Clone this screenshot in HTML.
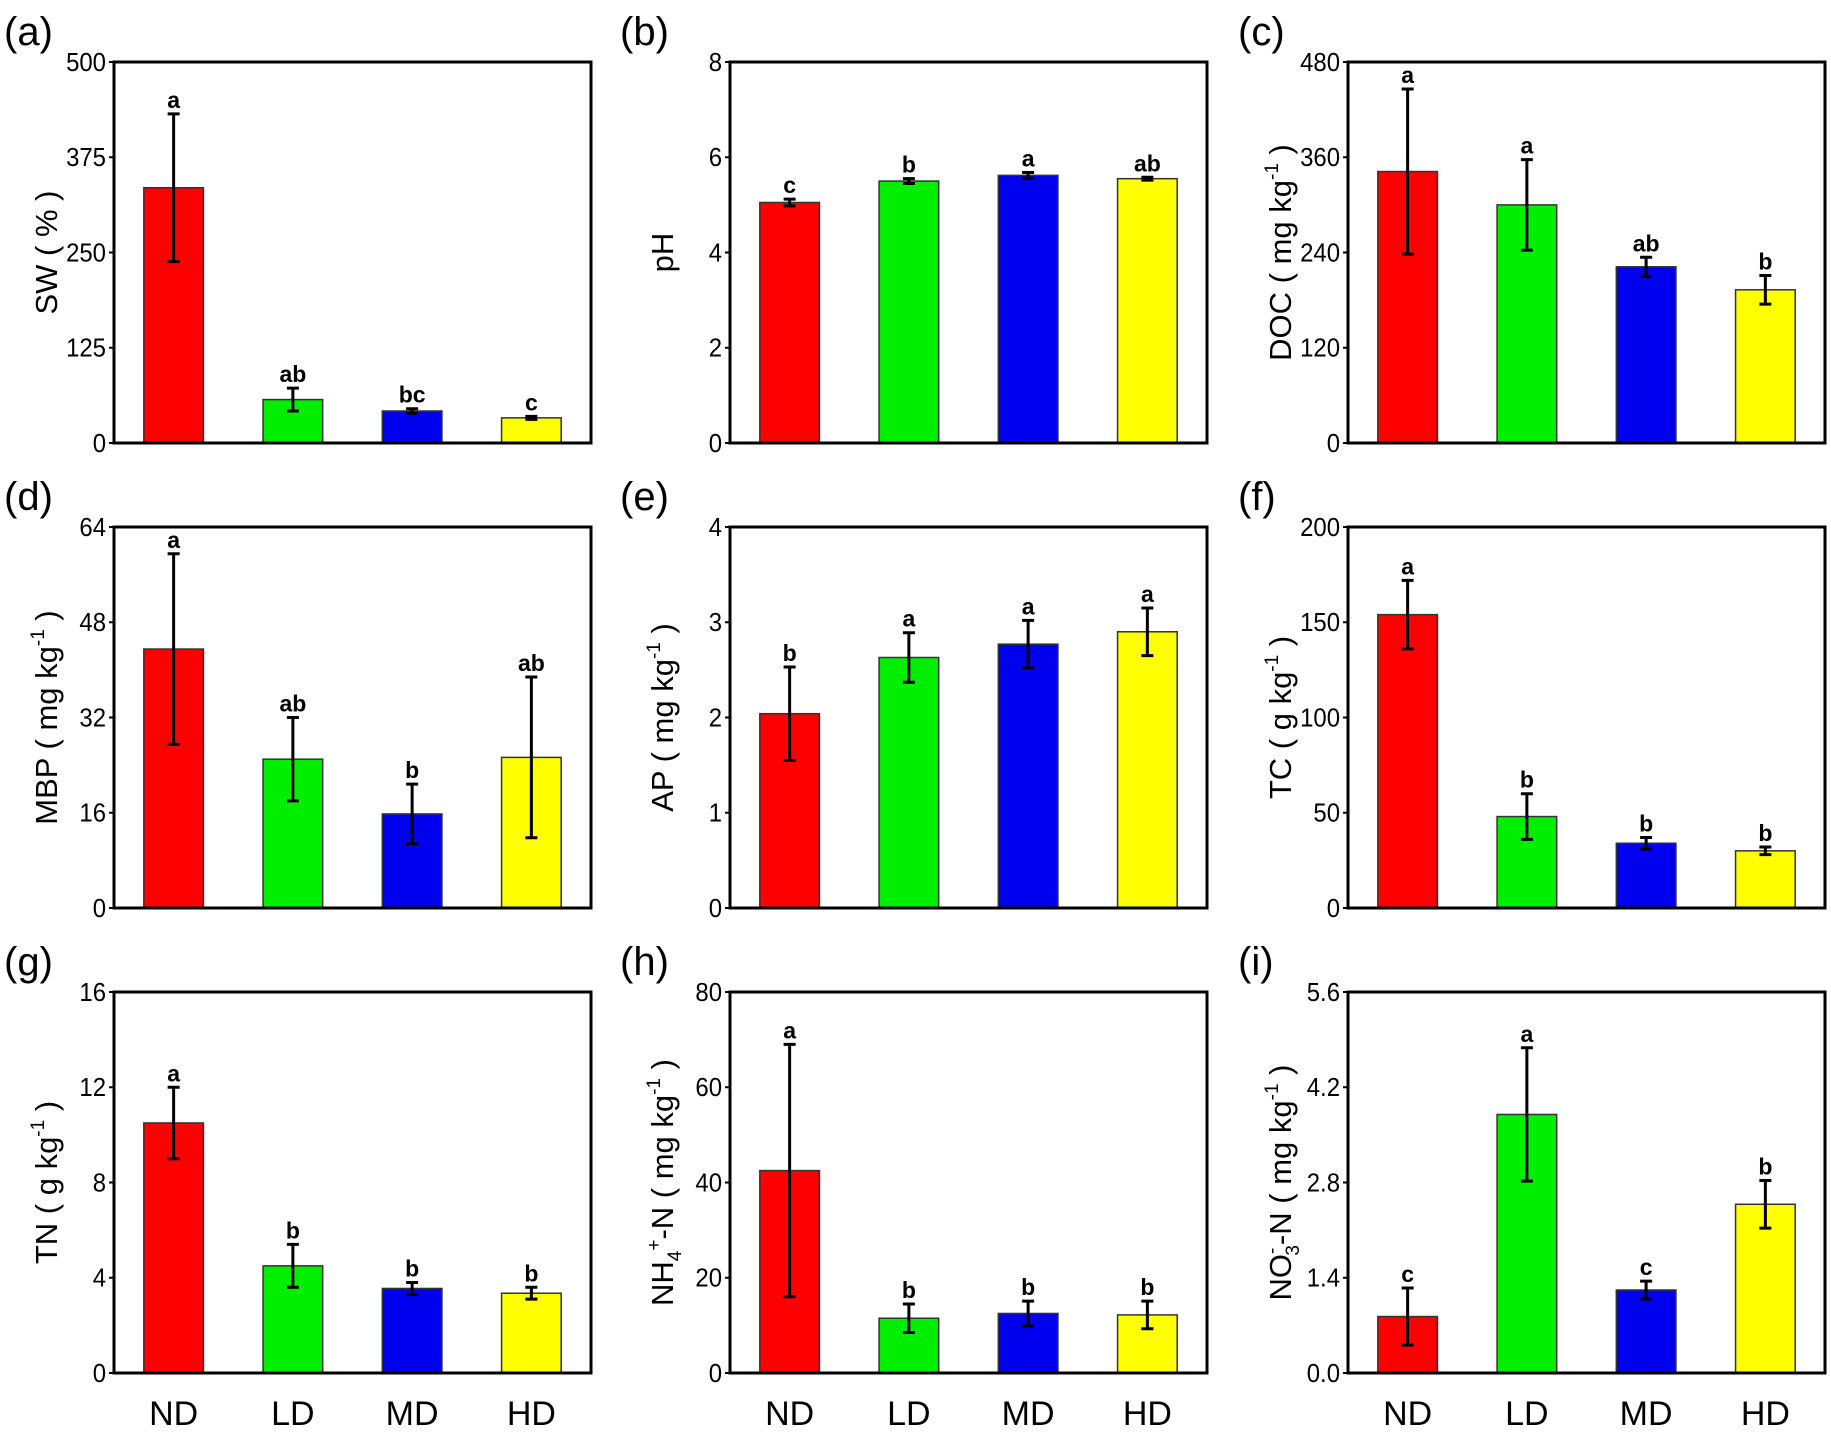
<!DOCTYPE html>
<html><head><meta charset="utf-8"><style>
body{margin:0;background:#fff}
svg{display:block;font-family:"Liberation Sans","DejaVu Sans",sans-serif}
</style></head><body>
<svg id="chart" width="1831" height="1436" viewBox="0 0 1831 1436" xmlns="http://www.w3.org/2000/svg"></svg>
<script>
const categories=["ND","LD","MD","HD"];
const colors=["#ff0000","#00ee00","#0000ee","#ffff00"];
const swValues=[335,57,42,33], swErr=[97,15,3,2], swLetters=["a","ab","bc","c"], swTicks=[0,125,250,375,500];
const phValues=[5.05,5.5,5.62,5.55], phErr=[0.07,0.05,0.06,0.03], phLetters=["c","b","a","ab"], phTicks=[0,2,4,6,8];
const docValues=[342,300,222,193], docErr=[104,57,12,18], docLetters=["a","a","ab","b"], docTicks=[0,120,240,360,480];
const mbpValues=[43.5,25,15.8,25.3], mbpErr=[16,7,5,13.5], mbpLetters=["a","ab","b","ab"], mbpTicks=[0,16,32,48,64];
const apValues=[2.04,2.63,2.77,2.9], apErr=[0.49,0.26,0.25,0.25], apLetters=["b","a","a","a"], apTicks=[0,1,2,3,4];
const tcValues=[154,48,34,30], tcErr=[18,12,3,2], tcLetters=["a","b","b","b"], tcTicks=[0,50,100,150,200];
const tnValues=[10.5,4.5,3.55,3.35], tnErr=[1.5,0.9,0.25,0.25], tnLetters=["a","b","b","b"], tnTicks=[0,4,8,12,16];
const nh4Values=[42.5,11.5,12.5,12.2], nh4Err=[26.5,3,2.6,2.9], nh4Letters=["a","b","b","b"], nh4Ticks=[0,20,40,60,80];
const no3Values=[0.83,3.8,1.22,2.48], no3Err=[0.42,0.98,0.13,0.35], no3Letters=["c","a","c","b"], no3Ticks=["0.0","1.4","2.8","4.2","5.6"];

const NS="http://www.w3.org/2000/svg";
const svg=document.getElementById('chart');
function mk(tag,attrs,parent){const e=document.createElementNS(NS,tag);for(const k in attrs)e.setAttribute(k,attrs[k]);(parent||svg).appendChild(e);return e;}

const colLeft=[114,730,1348], rowTop=[62,527,992], W=477, H=381;
const panels=[
 {id:"a",v:swValues,e:swErr,l:swLetters,t:swTicks,title:[["SW ( % )"]]},
 {id:"b",v:phValues,e:phErr,l:phLetters,t:phTicks,title:[["pH"]]},
 {id:"c",v:docValues,e:docErr,l:docLetters,t:docTicks,title:[["DOC ( mg kg"],["-1","sup"],[" )"]]},
 {id:"d",v:mbpValues,e:mbpErr,l:mbpLetters,t:mbpTicks,title:[["MBP ( mg kg"],["-1","sup"],[" )"]]},
 {id:"e",v:apValues,e:apErr,l:apLetters,t:apTicks,title:[["AP ( mg kg"],["-1","sup"],[" )"]]},
 {id:"f",v:tcValues,e:tcErr,l:tcLetters,t:tcTicks,title:[["TC ( g kg"],["-1","sup"],[" )"]]},
 {id:"g",v:tnValues,e:tnErr,l:tnLetters,t:tnTicks,title:[["TN ( g kg"],["-1","sup"],[" )"]]},
 {id:"h",v:nh4Values,e:nh4Err,l:nh4Letters,t:nh4Ticks,title:[["NH"],["4","sub"],["+","supafter"],["-N ( mg kg"],["-1","sup"],[" )"]]},
 {id:"i",v:no3Values,e:no3Err,l:no3Letters,t:no3Ticks,title:[["NO"],["-","sup"],["3","subafter"],["-N ( mg kg"],["-1","sup"],[" )"]]}
];

panels.forEach((p,idx)=>{
  const x0=colLeft[idx%3], y0=rowTop[Math.floor(idx/3)];
  const g=mk('g',{});
  
  
  const ymax=parseFloat(p.t[p.t.length-1]);
  const ys=v=>y0+H-v/ymax*H;
  const band=W/categories.length;
  const xc=i=>x0+(i+0.5)*band;
  p.v.forEach((v,i)=>{
    const r=mk('rect',{x:xc(i)-band/4,y:ys(v),width:band/2,height:ys(0)-ys(v),fill:colors[i],stroke:'#333','stroke-width':1.5},g);
    
    
    const lo=ys(v-p.e[i]), hi=ys(v+p.e[i]);
    const eb=mk('path',{d:`M${xc(i)},${lo}V${hi}M${xc(i)-6},${lo}H${xc(i)+6}M${xc(i)-6},${hi}H${xc(i)+6}`,stroke:'#000','stroke-width':3,fill:'none'},g);
    
    
    const lt=mk('text',{x:xc(i),y:hi-6,'text-anchor':'middle','font-size':23,'font-weight':'bold'},g);
    lt.textContent=p.l[i];
    
    
  });
  const fr=mk('rect',{x:x0,y:y0,width:W,height:H,fill:'none',stroke:'#000','stroke-width':3},g);
  
  
  p.t.forEach(t=>{
    const yy=ys(parseFloat(t));
    mk('line',{x1:x0-5,x2:x0,y1:yy,y2:yy,stroke:'#000','stroke-width':2},g);
    const tl=mk('text',{x:x0-8,y:yy+9,'text-anchor':'end','font-size':26,transform:`translate(${x0-8},0) scale(0.92,1) translate(${-(x0-8)},0)`},g);
    tl.textContent=t;
    
    
  });
  if(idx>=6){categories.forEach((c,i)=>{
    const xl=mk('text',{x:xc(i),y:y0+H+52,'text-anchor':'middle','font-size':34},g);
    xl.textContent=c;
    
    
  });}
  const tx=x0-68, ty=y0+H/2;
  const tt=mk('text',{transform:`translate(${tx},${ty}) rotate(-90)`,'text-anchor':'middle','font-size':31,y:11},g);
  
  
  p.title.forEach(([s,k])=>{
    const ts=mk('tspan',{},tt);ts.textContent=s;
    if(k==='sup'){ts.setAttribute('font-size',19);ts.setAttribute('dy',-13);}
    else if(k==='sub'){ts.setAttribute('font-size',19);ts.setAttribute('dy',8);}
    else if(k==='supafter'){ts.setAttribute('font-size',19);ts.setAttribute('dy',-21);}
    else if(k==='subafter'){ts.setAttribute('font-size',19);ts.setAttribute('dy',21);ts.setAttribute('dx',-8);}
    else if(tt.childNodes.length>1){ts.setAttribute('dy',tt.__d||0);}
    if(k==='sup')tt.__d=13; else if(k==='sub')tt.__d=-8; else if(k==='supafter')tt.__d=13; else if(k==='subafter')tt.__d=-8; else tt.__d=0;
  });
  const pl=mk('text',{x:x0-110,y:y0-17,'font-size':40},g);
  pl.textContent='('+p.id+')';
  
  
});
</script>
</body></html>
